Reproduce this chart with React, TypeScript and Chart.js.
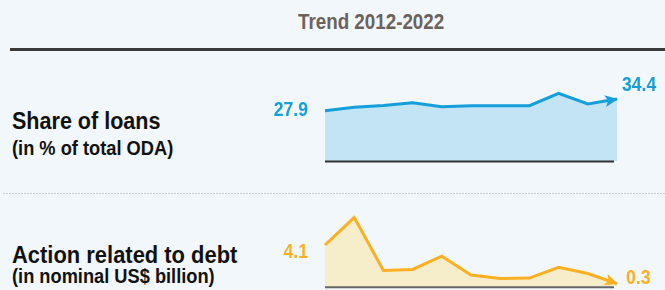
import React, { useEffect, useLayoutEffect, useRef } from "react";
import { Chart, registerables } from "chart.js";

Chart.register(...registerables);

const years = ["2012", "2013", "2014", "2015", "2016", "2017", "2018", "2019", "2020", "2021", "2022"];
const loanShare = [27.9, 29.8, 30.9, 32.4, 30.2, 30.7, 30.7, 30.7, 37.6, 31.7, 34.4];
const debtAction = [4.1, 6.8, 1.6, 1.7, 3.0, 1.15, 0.8, 0.85, 1.9, 1.3, 0.3];
const headerText = "Trend 2012-2022";
const row1Title = "Share of loans";
const row1Sub = "(in % of total ODA)";
const row2Title = "Action related to debt";
const row2Sub = "(in nominal US$ billion)";

const FONT = "'Liberation Sans', Arial, sans-serif";

type SparkProps = {
  values: number[];
  line: string;
  fill: string;
  baseColor: string;
  yMax: number;
  padTop: number;
  padBottom: number;
  firstDy: number;
  lastDx: number;
  lastDy: number;
};

function drawNarrow(ctx: CanvasRenderingContext2D, text: string, x: number, y: number, align: "left" | "right", sx: number) {
  ctx.save();
  ctx.translate(x, y);
  ctx.scale(sx, 1);
  ctx.textAlign = align;
  ctx.fillText(text, 0, 0);
  ctx.restore();
}

const sparkPlugin = {
  id: "sparkDecor",
  afterDatasetsDraw(chart: any) {
    const o = chart.options.plugins.sparkDecor;
    const ctx = chart.ctx;
    const area = chart.chartArea;
    const pts = chart.getDatasetMeta(0).data;
    const vals = chart.data.datasets[0].data as number[];
    ctx.save();
    // baseline
    ctx.strokeStyle = o.baseColor;
    ctx.lineWidth = 2;
    ctx.beginPath();
    ctx.moveTo(area.left, area.bottom + 0.5);
    ctx.lineTo(area.right - 3, area.bottom + 0.5);
    ctx.stroke();
    // arrowhead
    const a = pts[pts.length - 2];
    const b = pts[pts.length - 1];
    const ang = Math.atan2(b.y - a.y, b.x - a.x);
    const tipX = b.x + Math.cos(ang) * 1;
    const tipY = b.y + Math.sin(ang) * 1;
    const len = 13;
    const hw = 6;
    const bx = tipX - Math.cos(ang) * len;
    const by = tipY - Math.sin(ang) * len;
    ctx.fillStyle = o.line;
    ctx.beginPath();
    ctx.moveTo(tipX, tipY);
    ctx.lineTo(bx + Math.sin(ang) * hw, by - Math.cos(ang) * hw);
    ctx.lineTo(bx + Math.cos(ang) * 3, by + Math.sin(ang) * 3);
    ctx.lineTo(bx - Math.sin(ang) * hw, by + Math.cos(ang) * hw);
    ctx.closePath();
    ctx.fill();
    // value labels
    ctx.font = "bold 20px " + FONT;
    ctx.fillStyle = o.line;
    ctx.textBaseline = "middle";
    const f = pts[0];
    drawNarrow(ctx, vals[0].toFixed(1), f.x - 17, f.y + o.firstDy, "right", 0.88);
    drawNarrow(ctx, vals[vals.length - 1].toFixed(1), b.x + o.lastDx, b.y + o.lastDy, "left", 0.88);
    ctx.restore();
  },
};

function Spark(p: SparkProps) {
  const ref = useRef<HTMLCanvasElement>(null);
  useEffect(() => {
    if (!ref.current) return;
    const chart = new Chart(ref.current, {
      type: "line",
      data: {
        labels: years,
        datasets: [
          {
            data: p.values,
            borderColor: p.line,
            backgroundColor: p.fill,
            borderWidth: 3,
            fill: "origin",
            tension: 0,
            pointRadius: 0,
            borderJoinStyle: "miter",
          },
        ],
      },
      options: {
        responsive: false,
        animation: false,
        devicePixelRatio: 1,
        layout: { padding: { left: 325, right: 48, top: p.padTop, bottom: p.padBottom } },
        scales: {
          x: { display: false },
          y: { display: false, min: 0, max: p.yMax },
        },
        plugins: {
          legend: { display: false },
          tooltip: { enabled: false },
          sparkDecor: {
            line: p.line,
            baseColor: p.baseColor,
            firstDy: p.firstDy,
            lastDx: p.lastDx,
            lastDy: p.lastDy,
          },
        } as any,
      },
      plugins: [sparkPlugin],
    });
    return () => chart.destroy();
  }, []);
  return (
    <canvas
      ref={ref}
      width={665}
      height={290}
      style={{ position: "absolute", left: 0, top: 0, width: 665, height: 290 }}
    />
  );
}

function Txt(props: { x: number; y: number; size: number; color: string; fit: number; children: any }) {
  const ref = useRef<HTMLDivElement>(null);
  useLayoutEffect(() => {
    const el = ref.current;
    if (!el) return;
    const w = el.offsetWidth;
    if (w > 0) el.style.transform = `scaleX(${props.fit / w})`;
  }, []);
  return (
    <div
      ref={ref}
      style={{
        position: "absolute",
        left: props.x,
        top: props.y,
        fontFamily: FONT,
        fontWeight: "bold",
        fontSize: props.size,
        lineHeight: props.size + "px",
        color: props.color,
        whiteSpace: "nowrap",
        transformOrigin: "0 0",
      }}
    >
      {props.children}
    </div>
  );
}

export default function App() {
  return (
    <div
      style={{
        position: "absolute",
        left: 0,
        top: 0,
        width: 665,
        height: 290,
        overflow: "hidden",
        background: "#f2f7fb",
      }}
    >
      <Txt x={298} y={10.7} size={22} fit={146} color="#6b625c">{headerText}</Txt>
      <div style={{ position: "absolute", left: 10, top: 48, width: 655, height: 3, background: "#3a3a3a" }} />
      <div
        style={{
          position: "absolute",
          left: 3,
          top: 193,
          width: 662,
          height: 1,
          backgroundImage: "repeating-linear-gradient(to right, #c9ced3 0px, #c9ced3 2px, transparent 2px, transparent 3px)",
        }}
      />
      <Txt x={12} y={110} size={23} fit={148} color="#111">{row1Title}</Txt>
      <Txt x={12} y={138.5} size={19.5} fit={161} color="#111">{row1Sub}</Txt>
      <Txt x={12} y={244} size={23} fit={225} color="#111">{row2Title}</Txt>
      <Txt x={12} y={267} size={19.5} fit={203} color="#111">{row2Sub}</Txt>
      <Spark
        values={loanShare}
        line="#149fdb"
        fill="#c3e4f5"
        baseColor="#333333"
        yMax={40}
        padTop={89}
        padBottom={129}
        firstDy={0}
        lastDx={5}
        lastDy={-14}
      />
      <Spark
        values={debtAction}
        line="#fbb022"
        fill="#f6eecb"
        baseColor="#666666"
        yMax={7}
        padTop={215.5}
        padBottom={3.3}
        firstDy={7}
        lastDx={9}
        lastDy={-5}
      />
    </div>
  );
}
